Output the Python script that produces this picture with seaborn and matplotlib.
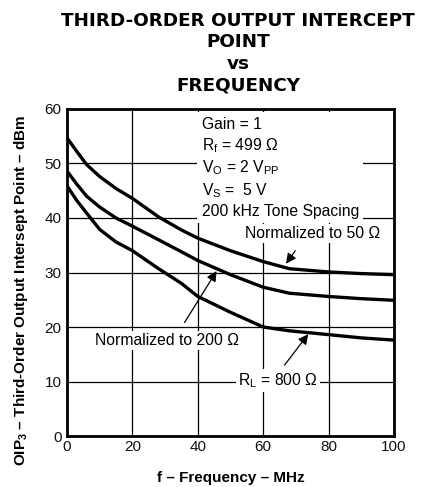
import pandas as pd
import seaborn as sns
import matplotlib.pyplot as plt

# values
freq_mhz = [0, 3, 6, 10, 15, 20, 28, 35, 40, 50, 60, 68, 80, 90, 100]
oip3_50 = [54.7, 52.2, 49.8, 47.6, 45.4, 43.6, 40.2, 37.8, 36.3, 34.0, 32.0, 30.7, 30.1, 29.8, 29.6]
oip3_200 = [48.6, 46.2, 44.0, 42.0, 40.0, 38.5, 36.0, 33.8, 32.2, 29.6, 27.3, 26.2, 25.6, 25.2, 24.9]
oip3_800 = [45.9, 43.2, 40.9, 37.9, 35.6, 34.0, 30.7, 28.0, 25.6, 22.7, 20.0, 19.3, 18.6, 18.0, 17.6]

df = pd.DataFrame({'f': freq_mhz * 3,
                   'oip3': oip3_50 + oip3_200 + oip3_800,
                   'load': ['50'] * 15 + ['200'] * 15 + ['800'] * 15})

sns.set_style('white')
plt.rcParams['font.family'] = ['Liberation Sans', 'DejaVu Sans']
plt.rcParams['text.color'] = 'black'
plt.rcParams['axes.labelcolor'] = 'black'
plt.rcParams['mathtext.fontset'] = 'custom'
plt.rcParams['mathtext.rm'] = 'Liberation Sans'
plt.rcParams['mathtext.it'] = 'Liberation Sans'
plt.rcParams['mathtext.bf'] = 'Liberation Sans:bold'

fig = plt.figure(figsize=(4.22, 4.87), dpi=100)
ax = fig.add_axes([0.1588, 0.1047, 0.7748, 0.6715])

sns.lineplot(data=df, x='f', y='oip3', units='load', estimator=None,
             color='black', linewidth=2.4, ax=ax, zorder=3)

ax.set_xlim(0, 100)
ax.set_ylim(0, 60)
ax.set_xticks(range(0, 101, 20))
ax.set_yticks(range(0, 61, 10))
ax.grid(True, color='black', linewidth=0.9)
ax.set_axisbelow(True)
for s in ax.spines.values():
    s.set_linewidth(2)
    s.set_color('black')
ax.tick_params(length=0, labelsize=11, colors='#111111', pad=3)
ax.tick_params(axis='y', pad=4)

ax.set_xlabel('f – Frequency – MHz', fontsize=11, fontweight='bold')
ax.set_ylabel('OIP$_\\mathbf{3}$ – Third-Order Output Intersept Point – dBm',
              fontsize=11, fontweight='bold')
ax.xaxis.set_label_coords(0.5, -0.108)
ax.yaxis.set_label_coords(-0.112, 0.445)

fig.text(0.564, 0.976, 'THIRD-ORDER OUTPUT INTERCEPT\nPOINT\nvs\nFREQUENCY',
         ha='center', va='top', fontsize=13.2, fontweight='bold', linespacing=1.25,
         family=['DejaVu Sans'])

box = dict(facecolor='white', edgecolor='none', pad=1.5)
cond = ('Gain = 1\n'
        'R$_\\mathrm{f}$ = 499 Ω\n'
        'V$_\\mathrm{O}$ = 2 V$_\\mathrm{PP}$\n'
        'V$_\\mathrm{S}$ =  5 V\n'
        '200 kHz Tone Spacing')
ax.text(41.2, 58.6, cond, ha='left', va='top', fontsize=11.3,
        linespacing=1.3, bbox=dict(facecolor='white', edgecolor='none', pad=3), zorder=4)
ax.text(95.8, 37.1, 'Normalized to 50 Ω', ha='right', va='center', fontsize=11.3,
        bbox=box, zorder=4)
ax.text(8.6, 17.6, 'Normalized to 200 Ω', ha='left', va='center', fontsize=11.3,
        bbox=box, zorder=4)
ax.text(52.3, 10.2, 'R$_\\mathrm{L}$ = 800 Ω', ha='left', va='center', fontsize=11.3,
        bbox=box, zorder=4)

arrow = dict(arrowstyle='-|>', color='black', lw=0.9, mutation_scale=15)
ax.annotate('', xy=(66.5, 31.2), xytext=(70.3, 34.4), arrowprops=arrow, zorder=5)
ax.annotate('', xy=(46.2, 30.7), xytext=(35.5, 20.4), arrowprops=arrow, zorder=5)
ax.annotate('', xy=(74.3, 19.1), xytext=(66, 12.6), arrowprops=arrow, zorder=5)

plt.savefig('out.png', dpi=100)
